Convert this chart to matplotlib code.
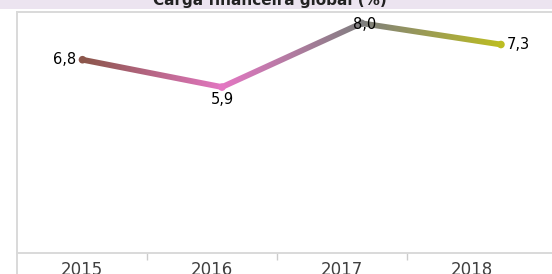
import numpy as np
import matplotlib
matplotlib.use("Agg")
import matplotlib.pyplot as plt
from matplotlib.colors import LinearSegmentedColormap, Normalize
from matplotlib.lines import Line2D
from matplotlib.patches import Rectangle, Polygon
from matplotlib.transforms import IdentityTransform

# data
years = ["2015", "2016", "2017", "2018"]
values = [6.8, 5.9, 8.0, 7.3]
point_colors = ["#8c564b", "#e377c2", "#7f7f7f", "#bcbd22"]
title = "Carga financeira global (%)"

W, H = 552, 274
fig = plt.figure(figsize=(W / 100, H / 100), dpi=100)
fig.patch.set_facecolor("white")

# lavender title band (title mostly cut off in the reference)
fig.add_artist(Rectangle((0, 1 - 9 / H), 1, 9 / H, transform=fig.transFigure,
                         facecolor="#ece4f0", edgecolor="none", zorder=0))
fig.text(270 / W, 1 - 5 / H, title, ha="center", va="baseline",
         fontsize=11, fontweight="bold", color="#222222")

ax = fig.add_axes([17 / W, 1 - 253 / H, 1 - 17 / W, (253 - 12) / H])
ax.set_xlim(-0.5, 3.615)
ax.set_ylim(0.44, 8.37)
grid_col = "#d9d9d9"
for side in ["left", "bottom", "top"]:
    ax.spines[side].set_color(grid_col)
    ax.spines[side].set_linewidth(1.4)
ax.spines["right"].set_visible(False)
ax.set_yticks([])
ax.set_xticks(range(len(years)))
ax.set_xticklabels(years, fontsize=12, color="#404040")
ax.set_xticks([0.5, 1.5, 2.5], minor=True)
ax.tick_params(axis="x", which="major", length=0, pad=6)
ax.tick_params(axis="x", which="minor", length=5, width=1, color="#cccccc")

# left frame line runs down past the axis
fig.add_artist(Line2D([17 / W, 17 / W], [0, 1 - 253 / H], transform=fig.transFigure,
                      color=grid_col, lw=1.4))

# line series on its own x scale
ax2 = ax.twiny()
ax2.set_xlim(-0.4695, 3.366)
ax2.set_ylim(0.44, 8.37)
ax2.set_autoscale_on(False)
ax2.axis("off")

x = np.arange(len(values))
pts = ax2.transData.transform(np.column_stack([x, values]))

cmap = LinearSegmentedColormap.from_list("grad", point_colors)
norm = Normalize(0, len(values) - 1)
xs = np.linspace(-0.2, len(values) - 0.8, 600)
hw = 2.9  # half line width in px
for i in range(len(values) - 1):
    p0, p1 = pts[i], pts[i + 1]
    d = (p1 - p0) / np.hypot(*(p1 - p0))
    n = np.array([-d[1], d[0]]) * hw
    quad = Polygon([p0 - n, p1 - n, p1 + n, p0 + n], closed=True,
                   transform=IdentityTransform())
    im = ax2.imshow(xs[None, :], extent=(xs[0], xs[-1], 0.44, 8.37),
                    cmap=cmap, norm=norm, aspect="auto", interpolation="bilinear",
                    zorder=2)
    im.set_clip_path(quad)

ax2.scatter(x, values, s=30, c=point_colors, linewidths=0, zorder=3)

fmt = [f"{v:.1f}".replace(".", ",") for v in values]
offsets = [((-4.5, 0), "right", "center"),
           ((0, -3.8), "center", "top"),
           ((2.2, -0.8), "center", "center"),
           ((4.5, 0), "left", "center")]
for xi, v, s, (off, ha, va) in zip(x, values, fmt, offsets):
    ax2.annotate(s, (xi, v), xytext=off, textcoords="offset points",
                 ha=ha, va=va, fontsize=10.5, color="black", zorder=4)

fig.savefig("out.png", dpi=100)
